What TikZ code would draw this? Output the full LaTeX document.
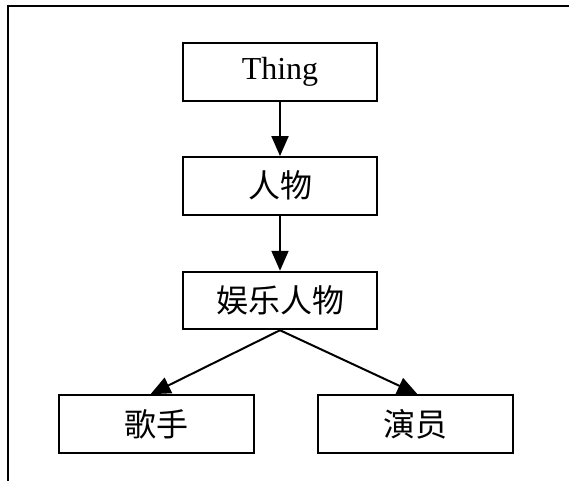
\documentclass[tikz,border=0pt]{standalone}
\usepackage{fontspec}
\setmainfont{Liberation Serif}
\newfontfamily\cjk{Noto Sans CJK SC}
\usetikzlibrary{arrows.meta,calc}
\begin{document}
\begin{tikzpicture}[x=1pt,y=-1pt,
  boxnode/.style={draw,line width=2pt,fill=white,minimum width=194.5pt,minimum height=57.5pt,inner sep=0pt,font=\fontsize{32}{38}\selectfont},
  arr/.style={line width=2pt,-{Triangle[length=20pt,width=17pt]}},
  framel/.style={line width=2pt}]
\useasboundingbox (0,0) rectangle (569,480);
\coordinate (fa) at (8,500);
\coordinate (fb) at (8,5.5);
\coordinate (fc) at (600,5.5);
\draw[framel] (fa) -- (fb) -- (fc);
\node[boxnode] (thing) at (280,72) {Thing};
\node[boxnode] (rw) at (280,185.8) {\cjk 人物};
\node[boxnode] (yl) at (280,300.5) {\cjk 娱乐人物};
\node[boxnode] (gs) at (156.5,424) {\cjk 歌手};
\node[boxnode] (yy) at (415.5,424) {\cjk 演员};
\draw[arr] (thing.south) -- (rw.north);
\draw[arr] (rw.south) -- (yl.north);
\draw[arr] (yl.south) -- ($(gs.north)+(-6,0)$);
\draw[arr] (yl.south) -- ($(yy.north)+(2,0)$);
\end{tikzpicture}
\end{document}
